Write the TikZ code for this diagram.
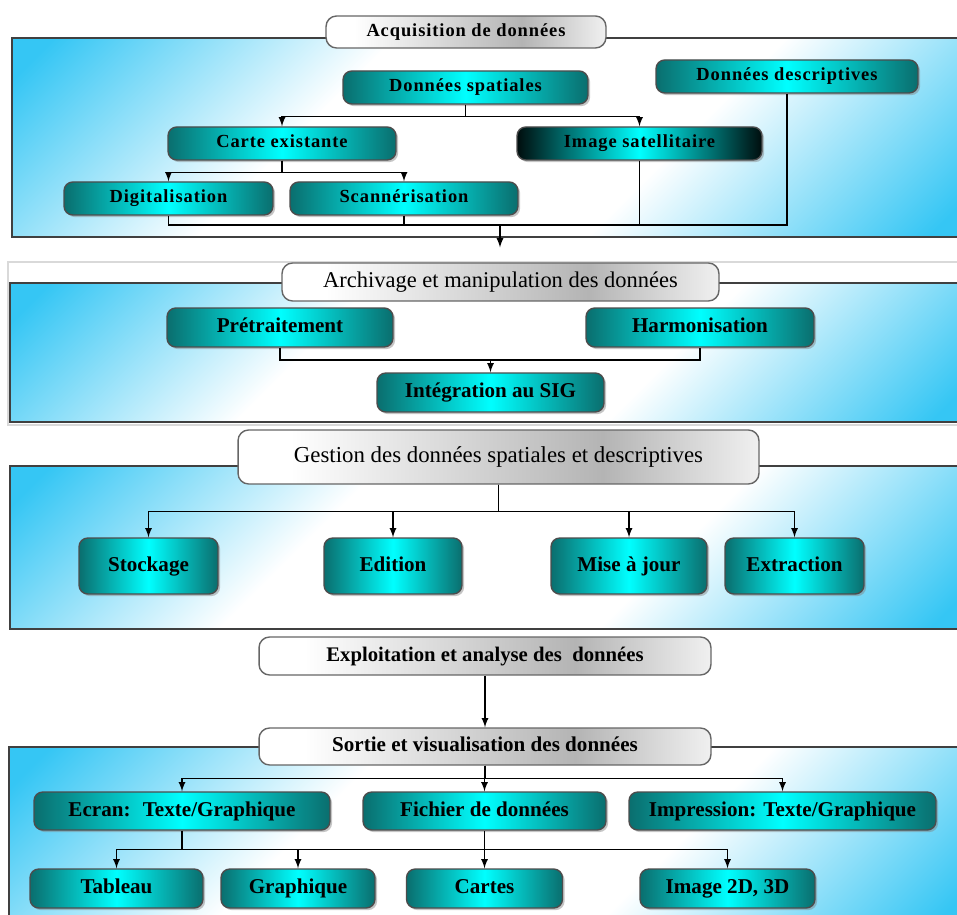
\documentclass[tikz,border=0pt]{standalone}
\usepackage{fontspec}
\setmainfont{Liberation Serif}
\newfontfamily\spacedfont[LetterSpace=5]{Liberation Serif}
\usetikzlibrary{shadows}
\definecolor{tealdark}{HTML}{0A6E6E}
\definecolor{skyb}{HTML}{35C6F4}
\definecolor{titlegray}{HTML}{B4B4B4}
\pgfdeclarehorizontalshading{boxshade}{100bp}{color(0bp)=(tealdark); color(25bp)=(tealdark); color(50bp)=(cyan); color(75bp)=(tealdark); color(100bp)=(tealdark)}
\pgfdeclarehorizontalshading{darkshade}{100bp}{color(0bp)=(black); color(25bp)=(black!90!teal); color(50bp)=(cyan); color(75bp)=(black!90!teal); color(100bp)=(black)}
\pgfdeclarehorizontalshading{titleshade}{100bp}{color(0bp)=(white); color(30bp)=(white); color(60bp)=(titlegray); color(75bp)=(white!80!titlegray); color(100bp)=(white)}
\pgfdeclarehorizontalshading{panelshade}{100bp}{color(0bp)=(skyb); color(17bp)=(skyb); color(38bp)=(white); color(62bp)=(white); color(83bp)=(skyb); color(100bp)=(skyb)}

\begin{document}
\begin{tikzpicture}[>=latex, x=0.02cm, y=-0.02cm, line width=0.8pt,
    panel/.style={draw=black!75, shading=panelshade, shading angle=-45},
    proc/.style={draw=black!70, rounded corners=5pt, shading=boxshade, inner sep=0pt,
        drop shadow={shadow xshift=1.2pt, shadow yshift=-1.2pt, opacity=.45}},
    head/.style={draw=black!60, rounded corners=6pt, shading=titleshade, inner sep=0pt},
    fontA/.style={font=\spacedfont\bfseries\fontsize{10.5}{12}\selectfont, text height=7.2pt, text depth=2.2pt},
    fontB/.style={font=\bfseries\fontsize{12}{14}\selectfont, text height=8.3pt, text depth=2.6pt},
    fontC/.style={font=\fontsize{12.8}{14}\selectfont, text height=8.8pt, text depth=2.8pt}]
    \clip (0,0) rectangle (957,915);
    \fill[white] (0,0) rectangle (957,915);

    \draw[panel] (12,38) rectangle (970,237);
    \node[head, fontA, minimum width=5.6cm, minimum height=0.64cm] (acq) at (466,32) {Acquisition de données};
    \node[proc, fontA, minimum width=4.9cm, minimum height=0.66cm] (ds) at (465.5,87.5) {Données spatiales};
    \node[proc, fontA, minimum width=5.24cm, minimum height=0.66cm] (dd) at (787,76.5) {Données descriptives};
    \node[proc, fontA, minimum width=4.56cm, minimum height=0.66cm] (ce) at (282,143.5) {Carte existante};
    \node[proc, fontA, shading=darkshade, minimum width=4.9cm, minimum height=0.66cm] (is) at (639.5,143.5) {Image satellitaire};
    \node[proc, fontA, minimum width=4.18cm, minimum height=0.66cm] (dg) at (168.5,198.5) {Digitalisation};
    \node[proc, fontA, minimum width=4.56cm, minimum height=0.66cm] (sc) at (404,198.5) {Scannérisation};
    \draw[->](ds.south)--++(0,12)-|(ce.north);
    \draw[->](ds.south)--++(0,12)-|(is.north);
    \draw[->](ce.south)--++(0,12)-|(dg.north);
    \draw[->](ce.south)--++(0,12)-|(sc.north);
    \coordinate (m1) at (500,225);
    \draw(dg.south)|-(m1);
    \draw(sc.south)|-(m1);
    \draw(is.south)|-(m1);
    \draw(dd.south)|-(m1);

    \draw[black!15, line width=0.6pt] (8,262) rectangle (970,425);
    \draw[panel] (10,283) rectangle (970,422);
    \node[head, fontC, minimum width=8.74cm, minimum height=0.76cm] (arc) at (500.5,282) {Archivage et manipulation des données};
    \draw[->, shorten >=8.5pt](m1)--(m1|-arc.north);
    \node[proc, fontB, minimum width=4.52cm, minimum height=0.78cm] (pt) at (280,327.5) {Prétraitement};
    \node[proc, fontB, minimum width=4.56cm, minimum height=0.78cm] (hm) at (700,327.5) {Harmonisation};
    \node[proc, fontB, minimum width=4.54cm, minimum height=0.78cm] (ig) at (490.5,392.5) {Intégration au SIG};
    \coordinate (m2) at (490.5,360);
    \draw(pt.south)|-(m2)-|(hm.south);
    \draw[->](m2)--(ig.north);

    \draw[panel] (10,466) rectangle (970,629);
    \node[head, fontC, font=\fontsize{13}{15}\selectfont, minimum width=10.42cm, minimum height=1.08cm] (ges) at (498.5,457) {Gestion des données spatiales et descriptives};
    \node[proc, fontB, minimum width=2.78cm, minimum height=1.12cm] (st) at (148.5,566) {Stockage};
    \node[proc, fontB, minimum width=2.76cm, minimum height=1.12cm] (ed) at (393,566) {Edition};
    \node[proc, fontB, minimum width=3.12cm, minimum height=1.12cm] (mj) at (629,566) {Mise à jour};
    \node[proc, fontB, minimum width=2.78cm, minimum height=1.12cm] (ex) at (794.5,566) {Extraction};
    \draw[->](ges.south)--++(0,27)-|(st.north);
    \draw[->](ges.south)--++(0,27)-|(ed.north);
    \draw[->](ges.south)--++(0,27)-|(mj.north);
    \draw[->](ges.south)--++(0,27)-|(ex.north);

    \node[head, fontB, font=\bfseries\fontsize{11.8}{14}\selectfont, minimum width=9.04cm, minimum height=0.76cm] (ep) at (485,656) {Exploitation et analyse des \ données};
    \draw[panel] (9,747) rectangle (970,930);
    \node[head, fontB, minimum width=9.04cm, minimum height=0.74cm] (so) at (485,746.5) {Sortie et visualisation des données};
    \draw[->](ep)--(so);
    \node[proc, fontB, minimum width=5.92cm, minimum height=0.76cm] (ec) at (182,811) {Ecran: \ Texte/Graphique};
    \node[proc, fontB, minimum width=4.86cm, minimum height=0.76cm] (fi) at (484.5,811) {Fichier de données};
    \node[proc, fontB, minimum width=6.14cm, minimum height=0.76cm] (im) at (782.5,811) {Impression: Texte/Graphique};
    \draw[->](so.south)--++(0,13)-|(ec.north);
    \draw[->](so.south)--++(0,13)-|(fi.north);
    \draw[->](so.south)--++(0,13)-|(im.north);
    \node[proc, fontB, minimum width=3.46cm, minimum height=0.78cm] (tb) at (116.5,888.5) {Tableau};
    \node[proc, fontB, minimum width=3.08cm, minimum height=0.78cm] (gr) at (298,888.5) {Graphique};
    \node[proc, fontB, minimum width=3.12cm, minimum height=0.78cm] (ca) at (484.5,888.5) {Cartes};
    \node[proc, fontB, minimum width=3.5cm, minimum height=0.78cm] (i2) at (727.5,888.5) {Image 2D, 3D};
    \draw(ec.south)--++(0,19)coordinate(m5);
    \draw[->](m5)-|(tb.north);
    \draw[->](m5)-|(gr.north);
    \draw[->](m5)-|(i2.north);
    \draw[->](fi.south)--(ca.north);
\end{tikzpicture}
\end{document}
